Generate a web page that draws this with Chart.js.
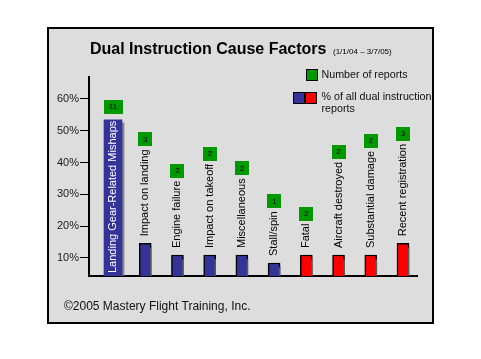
<!DOCTYPE html>
<html lang="en">
<head>
  <meta charset="UTF-8">
  <title>Dual Instruction Cause Factors</title>
  <script src="https://cdn.jsdelivr.net/npm/chart.js"></script>
  <style>
    html, body { margin: 0; padding: 0; background: #fff; }
    #wrap { width: 481px; height: 359px; }
  </style>
</head>
<body>
<div id="wrap"><canvas id="grafico"></canvas></div>
<script>
// categories, % of all dual instruction reports, number of reports
var categorias = ['Landing Gear-Related Mishaps', 'Impact on landing', 'Engine failure',
  'Impact on takeoff', 'Miscellaneous', 'Stall/spin', 'Fatal', 'Aircraft destroyed',
  'Substantial damage', 'Recent registration'];
var percentual = [53.4, 14.6, 10.9, 10.9, 10.9, 8.4, 10.9, 10.9, 10.9, 14.6];
var relatos = [11, 3, 2, 2, 2, 1, 2, 2, 2, 3];
var yTicks = [10, 20, 30, 40, 50, 60];

var AZUL = '#333399', VERMELHO = '#ff0000', VERDE = '#009900';

function corBarra(i){ return i < 6 ? AZUL : VERMELHO; }

// first bar is the wide one with its label written inside
var pontosLargos = [], pontosNormais = [];
for (var i = 0; i < percentual.length; i++){
  var p = { x: i, y: percentual[i], idx: i };
  if (i === 0) pontosLargos.push(p); else pontosNormais.push(p);
}

// panel, title, legend and footer
var painel = {
  id: 'painel',
  beforeDraw: function(chart){
    var ctx = chart.ctx;
    ctx.save();
    ctx.fillStyle = '#fff';
    ctx.fillRect(0, 0, chart.width, chart.height);
    ctx.fillStyle = '#dddddd';
    ctx.fillRect(48, 28, 385, 295);
    ctx.strokeStyle = '#000';
    ctx.lineWidth = 2;
    ctx.strokeRect(48, 28, 385, 295);
    ctx.restore();
  },
  afterDraw: function(chart){
    var ctx = chart.ctx;
    ctx.save();
    ctx.fillStyle = '#000';
    ctx.textBaseline = 'alphabetic';
    ctx.font = 'bold 16px "Liberation Sans", Arial, sans-serif';
    ctx.fillText('Dual Instruction Cause Factors', 90, 54);
    ctx.font = '8px "Liberation Sans", Arial, sans-serif';
    ctx.fillText('(1/1/04 \u2013 3/7/05)', 333, 54);

    // legend
    ctx.lineWidth = 1;
    ctx.strokeStyle = '#000';
    ctx.fillStyle = VERDE;
    ctx.fillRect(306, 69, 12, 12);
    ctx.strokeRect(306.5, 69.5, 11, 11);
    ctx.fillStyle = AZUL;
    ctx.fillRect(293, 92, 12, 12);
    ctx.strokeRect(293.5, 92.5, 11, 11);
    ctx.fillStyle = VERMELHO;
    ctx.fillRect(305, 92, 12, 12);
    ctx.strokeRect(305.5, 92.5, 11, 11);

    ctx.fillStyle = '#111';
    ctx.textBaseline = 'middle';
    ctx.font = '10.7px "Liberation Sans", Arial, sans-serif';
    ctx.fillText('Number of reports', 321.5, 75);
    ctx.fillText('% of all dual instruction', 321.5, 97.5);
    ctx.fillText('reports', 321.5, 109.5);

    ctx.font = '12px "Liberation Sans", Arial, sans-serif';
    ctx.fillText('\u00a92005 Mastery Flight Training, Inc.', 64, 307);
    ctx.restore();
  }
};

// drop shadow under the bars
var sombra = {
  id: 'sombra',
  beforeDatasetsDraw: function(chart){
    var ctx = chart.ctx;
    ctx.save();
    ctx.shadowColor = 'rgba(110,110,110,0.8)';
    ctx.shadowOffsetX = 2;
    ctx.shadowOffsetY = 3;
    ctx.shadowBlur = 0;
  },
  afterDatasetsDraw: function(chart){
    chart.ctx.restore();
  }
};

// rotated category labels and green count boxes
var rotulos = {
  id: 'rotulos',
  afterDatasetsDraw: function(chart){
    var ctx = chart.ctx;
    var area = chart.chartArea;
    ctx.save();
    ctx.font = '11px "Liberation Sans", Arial, sans-serif';
    chart.data.datasets.forEach(function(ds, d){
      var meta = chart.getDatasetMeta(d);
      meta.data.forEach(function(bar, j){
        var idx = ds.data[j].idx;
        var texto = categorias[idx];
        var larg = ctx.measureText(texto).width;
        var dentro = d === 0;
        var cx = bar.x;
        var topo = bar.y;
        var inicio = dentro ? area.bottom - 3 : topo - 7;

        ctx.save();
        ctx.translate(cx, inicio);
        ctx.rotate(-Math.PI / 2);
        ctx.textAlign = 'left';
        ctx.textBaseline = 'middle';
        ctx.fillStyle = dentro ? '#fff' : '#000';
        ctx.fillText(texto, 0, 0);
        ctx.restore();

        var caixaW = Math.max(14, bar.width + 1);
        var caixaBase = dentro ? topo - 6 : inicio - larg - 3;
        ctx.fillStyle = VERDE;
        ctx.fillRect(Math.round(cx - caixaW / 2), Math.round(caixaBase - 14), caixaW, 14);
        ctx.fillStyle = '#000';
        ctx.font = '8px "Liberation Sans", Arial, sans-serif';
        ctx.textAlign = 'center';
        ctx.textBaseline = 'middle';
        ctx.fillText(String(relatos[idx]), cx, caixaBase - 7);
        ctx.font = '11px "Liberation Sans", Arial, sans-serif';
      });
    });
    ctx.restore();
  }
};

var ctx = document.getElementById('grafico').getContext('2d');
var myChart = new Chart(ctx, {
  type: 'bar',
  data: {
    datasets: [{
      data: pontosLargos,
      backgroundColor: pontosLargos.map(function(p){ return corBarra(p.idx); }),
      borderWidth: 0,
      barThickness: 18,
      grouped: false
    }, {
      data: pontosNormais,
      backgroundColor: pontosNormais.map(function(p){ return corBarra(p.idx); }),
      borderColor: '#000',
      borderWidth: 1.5,
      barThickness: 12,
      grouped: false
    }]
  },
  options: {
    responsive: true,
    maintainAspectRatio: false,
    animation: false,
    layout: { padding: { left: 48, top: 77, right: 64, bottom: 83 } },
    plugins: { legend: { display: false }, tooltip: { enabled: false } },
    scales: {
      x: {
        type: 'linear',
        min: -0.745,
        max: 9.435,
        offset: false,
        bounds: 'data',
        ticks: { display: false, includeBounds: true },
        grid: { display: false, offset: false },
        border: { display: true, color: '#000', width: 2 },
        afterFit: function(s){ s.height = 0; },
        afterDataLimits: function(s){ s.min = -0.745; s.max = 9.435; }
      },
      y: {
        min: 4.3,
        max: 66.9,
        afterBuildTicks: function(s){ s.ticks = yTicks.map(function(v){ return { value: v }; }); },
        afterFit: function(s){ s.width = 41; },
        ticks: {
          color: '#1a1a1a',
          padding: 1,
          font: { family: '"Liberation Sans", Arial, sans-serif', size: 11 },
          callback: function(v){ return v + '%'; }
        },
        grid: { drawOnChartArea: false, drawTicks: true, tickLength: 9, color: '#000', lineWidth: 1 },
        border: { display: true, color: '#000', width: 2 }
      }
    }
  },
  plugins: [painel, sombra, rotulos]
});
</script>
</body>
</html>
